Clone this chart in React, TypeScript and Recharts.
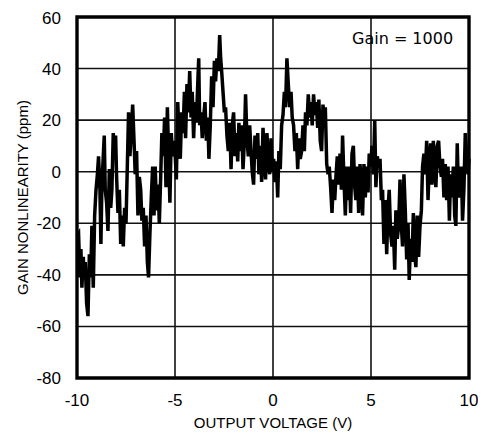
import { LineChart, Line, XAxis, YAxis, CartesianGrid, ReferenceArea, Label } from "recharts";

// output voltage (V) and gain nonlinearity (ppm)
const volts = [
  -10.0, -9.92, -9.85, -9.8, -9.75, -9.68, -9.63, -9.58, -9.51, -9.44, -9.37, -9.3, -9.24, -9.17, -9.1, -9.03,
  -8.96, -8.9, -8.83, -8.78, -8.73, -8.66, -8.61, -8.56, -8.49, -8.42, -8.35, -8.28, -8.22, -8.15, -8.08, -8.03,
  -7.98, -7.91, -7.84, -7.77, -7.71, -7.64, -7.57, -7.5, -7.43, -7.37, -7.3, -7.23, -7.16, -7.09, -7.03, -6.96,
  -6.89, -6.82, -6.75, -6.69, -6.62, -6.55, -6.48, -6.41, -6.35, -6.28, -6.21, -6.14, -6.07, -6.01, -5.94, -5.87,
  -5.8, -5.73, -5.67, -5.6, -5.53, -5.46, -5.39, -5.33, -5.26, -5.19, -5.12, -5.04,
  -5.0, -4.93, -4.86, -4.8, -4.73, -4.66, -4.59, -4.52, -4.46, -4.39, -4.32, -4.25, -4.18, -4.12, -4.05, -3.98,
  -3.91, -3.84, -3.79, -3.74, -3.67, -3.61, -3.54, -3.47, -3.4, -3.33, -3.27, -3.2, -3.13, -3.06, -2.99, -2.93,
  -2.86, -2.79, -2.72, -2.67, -2.62, -2.55, -2.48, -2.42, -2.35, -2.28, -2.21, -2.14, -2.08, -2.01, -1.94, -1.87,
  -1.8, -1.74, -1.67, -1.6, -1.53, -1.46, -1.4, -1.33, -1.26, -1.19, -1.12, -1.06, -0.99, -0.92, -0.85, -0.78,
  -0.72, -0.65, -0.58, -0.51, -0.44, -0.38, -0.31, -0.24, -0.17, -0.1, -0.04, 0.03, 0.1, 0.17, 0.24, 0.3,
  0.37, 0.44, 0.51, 0.58, 0.64, 0.71, 0.78, 0.85, 0.92, 0.98, 1.05, 1.12, 1.19, 1.26, 1.32, 1.39,
  1.46, 1.53, 1.6, 1.66, 1.73, 1.8, 1.87, 1.94, 2.0, 2.07, 2.14, 2.21, 2.28, 2.34, 2.41, 2.48,
  2.55, 2.62,
  2.67, 2.74, 2.81, 2.87, 2.94, 3.01, 3.08, 3.15, 3.21, 3.28, 3.35, 3.42, 3.49, 3.55, 3.62, 3.69,
  3.76, 3.83, 3.89, 3.96, 4.03, 4.1, 4.17, 4.23, 4.3, 4.37, 4.44, 4.51, 4.57, 4.64, 4.71, 4.78,
  4.85, 4.91, 4.98, 5.05, 5.12, 5.19, 5.25, 5.32, 5.39, 5.46, 5.53, 5.59, 5.66, 5.73, 5.8, 5.87,
  5.93, 6.0, 6.07, 6.14, 6.21, 6.27, 6.34, 6.41, 6.48, 6.55, 6.61, 6.68, 6.75, 6.82, 6.89, 6.95,
  7.02, 7.09, 7.16, 7.23, 7.29, 7.36, 7.43, 7.5, 7.57, 7.63, 7.7, 7.77, 7.84, 7.91, 7.97, 8.04,
  8.11, 8.18, 8.25, 8.31, 8.38, 8.45, 8.52, 8.59, 8.65, 8.72, 8.79, 8.86, 8.93, 9.0, 9.06, 9.13,
  9.2, 9.27, 9.33, 9.4, 9.47, 9.54, 9.61, 9.67, 9.74, 9.81, 9.88, 9.95, 10.0,
];

const ppm = [
  -25, -24, -41, -30, -45, -33, -41, -35, -51, -56, -32, -41, -21, -45, -17, -7,
  -1, 6, -7, -28, -5, 6, 14, -7, -12, -23, 1, -14, -7, 15, 6, 14,
  -2, -16, -7, -28, -17, -29, -14, -20, 3, 23, 6, 16, 26, 12, -1, 8,
  -17, -2, -7, -19, -14, -29, -17, -35, -41, -24, -10, 2, -17, 2, -15, -5,
  -20, -2, 15, 6, 21, -6, 25, 8, -12, 15, 6, 12,
  8, -3, 27, 15, 5, 23, 15, 31, 13, 34, 23, 39, 21, 31, 13, 27,
  19, 34, 44, 18, 23, 13, 21, 27, 12, 21, 5, 18, 37, 25, 43, 35,
  44, 39, 53, 44, 39, 31, 23, 25, 14, 8, 19, 1, 18, 23, 6, 15,
  4, 19, 8, 18, 1, 12, 30, 13, 6, 18, 8, 0, -5, 14, 5, 15,
  -1, 10, -4, 17, 5, -3, 15, 5, -1, 13, 0, 5, -4, 4, -10, 8,
  1, 18, 22, 31, 25, 44, 34, 25, 31, 21, 18, 8, 15, 1, 13, 5,
  8, 18, 8, 23, 18, 30, 21, 27, 18, 30, 22, 27, 17, 28, 12, 8,
  26, 17,
  25, 3, -1, 2, -6, -16, -3, -11, -2, 6, -5, 7, -7, 14, -3, -17,
  2, -11, 2, -16, 7, 10, -6, -11, 2, -16, 3, -6, -17, 3, -10, 2,
  -8, 7, 2, 10, -1, 20, -6, 6, 2, 5, -11, -7, -28, -11, -32, -14,
  -7, -24, -29, -21, -38, -15, -26, -21, -3, -21, -29, -1, -15, -34, -20, -42,
  -26, -35, -16, -32, -37, -17, -33, -21, -15, 2, 7, -1, 12, -11, 2, 11,
  -5, 12, 2, -6, 10, 12, 2, -2, 5, -10, 3, -11, 2, -19, -1, -10,
  2, -17, -21, 11, -10, -5, 2, -19, -7, 15, 7, -1, 5,
];

const xTicks = [-10, -5, 0, 5, 10];
const yTicks = [-80, -60, -40, -20, 0, 20, 40, 60];

const data = volts.map((v, i) => ({ v, ppm: ppm[i] }));

const FONT = "'Liberation Sans', Arial, sans-serif";

function YTitle(props: any) {
  const vb = props.viewBox || {};
  const cx = vb.x + 14;
  const cy = vb.y + vb.height / 2;
  return (
    <text
      x={cx}
      y={cy}
      transform={`rotate(-90 ${cx} ${cy})`}
      textAnchor="middle"
      dominantBaseline="central"
      fontFamily={FONT}
      fontSize={15}
      fill="#000"
    >
      GAIN NONLINEARITY (ppm)
    </text>
  );
}

export default function App() {
  return (
    <div style={{ position: "relative", width: 470, height: 434, fontFamily: FONT }}>
      <LineChart width={470} height={434} data={data} margin={{ top: 9, right: 9, left: 0, bottom: 0 }}>
        <CartesianGrid stroke="#111" strokeWidth={1.6} />
        <XAxis
          dataKey="v"
          type="number"
          domain={[-10, 10]}
          ticks={xTicks}
          height={64}
          tickSize={0}
          tickMargin={16}
          axisLine={false}
          tick={{ fill: "#000", fontSize: 17, fontFamily: FONT }}
          tickFormatter={(t) => String(t)}
        >
          <Label value="OUTPUT VOLTAGE (V)" position="insideTop" offset={39} fill="#000" fontSize={15} fontFamily={FONT} />
        </XAxis>
        <YAxis
          type="number"
          domain={[-80, 60]}
          ticks={yTicks}
          width={69}
          tickSize={0}
          tickMargin={16}
          axisLine={false}
          tick={{ fill: "#000", fontSize: 17, fontFamily: FONT }}
        >
          <Label content={<YTitle />} />
        </YAxis>
        <ReferenceArea x1={-10} x2={10} y1={-80} y2={60} fill="none" stroke="#000" strokeWidth={3.4} fillOpacity={0} />
        <Line
          type="linear"
          dataKey="ppm"
          stroke="#000"
          strokeWidth={3.5}
          dot={false}
          isAnimationActive={false}
        />
      </LineChart>
      <div
        style={{
          position: "absolute",
          left: 344,
          top: 21,
          fontSize: 16,
          color: "#000",
          fontFamily: "'DejaVu Sans', sans-serif",
        }}
      >
        Gain = 1000
      </div>
    </div>
  );
}
